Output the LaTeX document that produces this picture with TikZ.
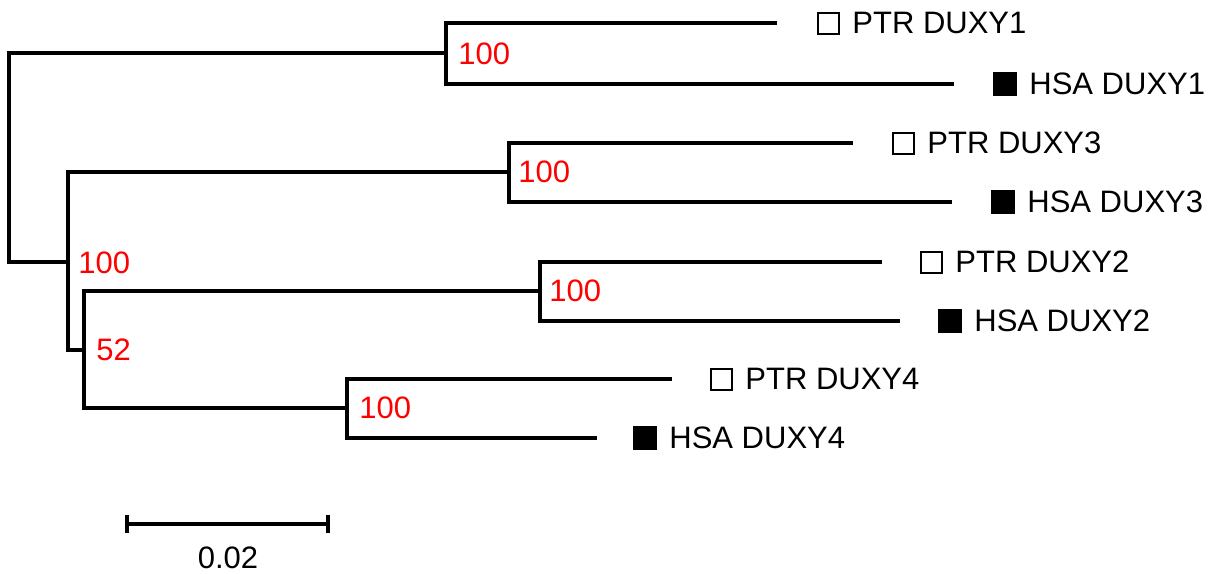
\documentclass[tikz,border=0pt]{standalone}
\usepackage{fontspec}
\setmainfont{Liberation Sans}
\begin{document}
\begin{tikzpicture}[x=0.5pt,y=-0.5pt,
  branch/.style={line width=1.6pt, line join=miter},
  leaflab/.style={anchor=west, inner sep=0pt, font=\fontsize{15.5}{18}\selectfont},
  boot/.style={anchor=west, inner sep=0pt, text=red, font=\fontsize{15.5}{18}\selectfont},
  opensq/.style={draw, line width=1pt, minimum size=10.5pt, inner sep=0pt},
  fillsq/.style={draw, fill=black, line width=0.5pt, minimum size=11.5pt, inner sep=0pt}]
\useasboundingbox (0,0) rectangle (1218,573);
% internal nodes
\coordinate (root) at (9,262);
\coordinate (n1) at (446,53);
\coordinate (n2) at (68,262);
\coordinate (n3) at (509,172);
\coordinate (n4) at (84,350);
\coordinate (n5) at (540,291);
\coordinate (n6) at (347,408);
% leaf ends
\coordinate (a1) at (777,23);
\coordinate (a2) at (954,84);
\coordinate (a3) at (853,143);
\coordinate (a4) at (952,202);
\coordinate (a5) at (882,262);
\coordinate (a6) at (900,321);
\coordinate (a7) at (672,379);
\coordinate (a8) at (597,438);
% branches
\draw[branch] (n1) -| (root) -- (n2);
\draw[branch] (a1) -| (n1) |- (a2);
\draw[branch] (n3) -| (n2) |- (n4);
\draw[branch] (a3) -| (n3) |- (a4);
\draw[branch] (n5) -| (n4) |- (n6);
\draw[branch] (a5) -| (n5) |- (a6);
\draw[branch] (a7) -| (n6) |- (a8);
% leaf markers and names
\node[opensq] (q1) at (828,23) {};  \node[leaflab] (t1) at (852,23) {PTR DUXY1};
\node[fillsq] (q2) at (1005,84) {}; \node[leaflab] (t2) at (1029,84) {HSA DUXY1};
\node[opensq] (q3) at (903,143) {}; \node[leaflab] (t3) at (927,143) {PTR DUXY3};
\node[fillsq] (q4) at (1003,202) {}; \node[leaflab] (t4) at (1027,202) {HSA DUXY3};
\node[opensq] (q5) at (931,262) {}; \node[leaflab] (t5) at (955,262) {PTR DUXY2};
\node[fillsq] (q6) at (950,321) {}; \node[leaflab] (t6) at (974,321) {HSA DUXY2};
\node[opensq] (q7) at (721,379) {}; \node[leaflab] (t7) at (745,379) {PTR DUXY4};
\node[fillsq] (q8) at (645,438) {}; \node[leaflab] (t8) at (669,438) {HSA DUXY4};
% bootstrap values
\node[boot] (b1) at (458,54) {100};
\node[boot] (b2) at (78,263) {100};
\node[boot] (b3) at (518,172) {100};
\node[boot] (b4) at (96,350) {52};
\node[boot] (b5) at (549,291) {100};
\node[boot] (b6) at (359,408) {100};
% scale bar
\coordinate (s1) at (127,524);
\coordinate (s2) at (328,524);
\coordinate (s1t) at (127,515);
\coordinate (s1b) at (127,533);
\coordinate (s2t) at (328,515);
\coordinate (s2b) at (328,533);
\draw[branch] (s1) -- (s2);
\draw[branch] (s1t) -- (s1b);
\draw[branch] (s2t) -- (s2b);
\node[inner sep=0pt, font=\fontsize{15.5}{18}\selectfont] (sl) at (228,558) {0.02};
\end{tikzpicture}
\end{document}
